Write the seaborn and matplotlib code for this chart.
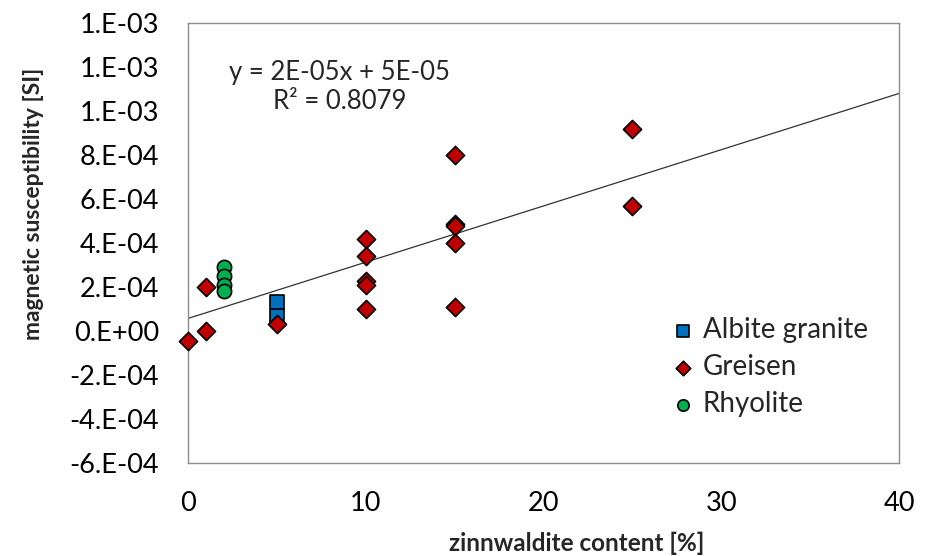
import numpy as np
import pandas as pd
import matplotlib
matplotlib.use("Agg")
import matplotlib.pyplot as plt
import seaborn as sns
from matplotlib.ticker import MultipleLocator, FixedLocator

# ---- data ----
albite_x = [5, 5]
albite_y = [1.33e-4, 0.68e-4]
greisen_x = [0, 1, 1, 5, 10, 10, 10, 10, 10, 15, 15, 15, 15, 15, 25, 25]
greisen_y = [-0.44e-4, 2.01e-4, 0.0, 0.30e-4,
             4.17e-4, 3.41e-4, 2.27e-4, 2.09e-4, 1.01e-4,
             7.98e-4, 4.88e-4, 4.76e-4, 3.98e-4, 1.10e-4,
             9.16e-4, 5.67e-4]
rhyolite_x = [2, 2, 2, 2]
rhyolite_y = [2.92e-4, 2.49e-4, 2.09e-4, 1.83e-4]

series_names = ["Albite granite", "Greisen", "Rhyolite"]
y_ticks = [-6e-4, -4e-4, -2e-4, 0.0, 2e-4, 4e-4, 6e-4, 8e-4, 1.0e-3, 1.2e-3, 1.4e-3]
y_tick_labels = ["-6.E-04", "-4.E-04", "-2.E-04", "0.E+00", "2.E-04", "4.E-04",
                 "6.E-04", "8.E-04", "1.E-03", "1.E-03", "1.E-03"]
x_ticks = [0, 10, 20, 30, 40]
eq_text = "y = 2E-05x + 5E-05\nR² = 0.8079"

df = pd.concat([
    pd.DataFrame({"x": albite_x, "y": albite_y, "type": series_names[0]}),
    pd.DataFrame({"x": greisen_x, "y": greisen_y, "type": series_names[1]}),
    pd.DataFrame({"x": rhyolite_x, "y": rhyolite_y, "type": series_names[2]}),
], ignore_index=True)

sns.set_style("white")
plt.rcParams["font.family"] = ["Lato", "DejaVu Sans"]

fig = plt.figure(figsize=(9.28, 5.56), dpi=100)
ax = fig.add_axes([188/928, 93/556, 711/928, 440/556])

styles = {
    "Albite granite": dict(marker="s", color="#0070C0", s=100),
    "Greisen": dict(marker="D", color="#C00000", s=85),
    "Rhyolite": dict(marker="o", color="#00B050", s=105),
}
for name in series_names:
    sub = df[df["type"] == name]
    st = styles[name]
    sns.scatterplot(data=sub, x="x", y="y", ax=ax, marker=st["marker"],
                    color=st["color"], s=st["s"], edgecolor="black",
                    linewidth=1.2, label=name, zorder=3, clip_on=False)

# linear trendline over all points
coef = np.polyfit(df["x"], df["y"], 1)
xl = np.array([0, 40])
ax.plot(xl, np.polyval(coef, xl), color="#333333", lw=0.9, zorder=2)

ax.set_xlim(0, 40)
ax.set_ylim(-6e-4, 1.4e-3)
ax.xaxis.set_major_locator(FixedLocator(x_ticks))
ax.xaxis.set_minor_locator(MultipleLocator(2))
ax.yaxis.set_major_locator(FixedLocator(y_ticks))
ax.set_yticklabels(y_tick_labels)
ax.yaxis.set_minor_locator(MultipleLocator(4e-5))

for sp in ax.spines.values():
    sp.set_color("#8c8c8c")
    sp.set_linewidth(1.0)
ax.tick_params(axis="both", which="both", direction="in", color="#8c8c8c",
               top=False, right=False)
ax.tick_params(axis="both", which="major", length=7, labelsize=19.5, labelcolor="black")
ax.tick_params(axis="both", which="minor", length=7)
ax.tick_params(axis="y", which="major", pad=21)
ax.tick_params(axis="x", which="major", pad=20)

ax.set_xlabel("zinnwaldite content [%]", fontsize=17.5, fontweight="bold")
ax.set_ylabel("magnetic susceptibility [SI]", fontsize=16.5, fontweight="bold")
ax.xaxis.set_label_coords(0.547, -0.155)
ax.yaxis.set_label_coords(-0.203, 0.589)

ax.text(8.55, 1.111e-3, eq_text, ha="center", va="center", ma="center",
        fontsize=18.5, linespacing=1.2)

ax.legend(loc="upper left", bbox_to_anchor=(0.683, 0.331), frameon=False,
          fontsize=20, borderpad=0, borderaxespad=0, handlelength=0.7,
          handletextpad=0.35, labelspacing=0.39, markerscale=0.8)

fig.savefig("out.png", dpi=100)
